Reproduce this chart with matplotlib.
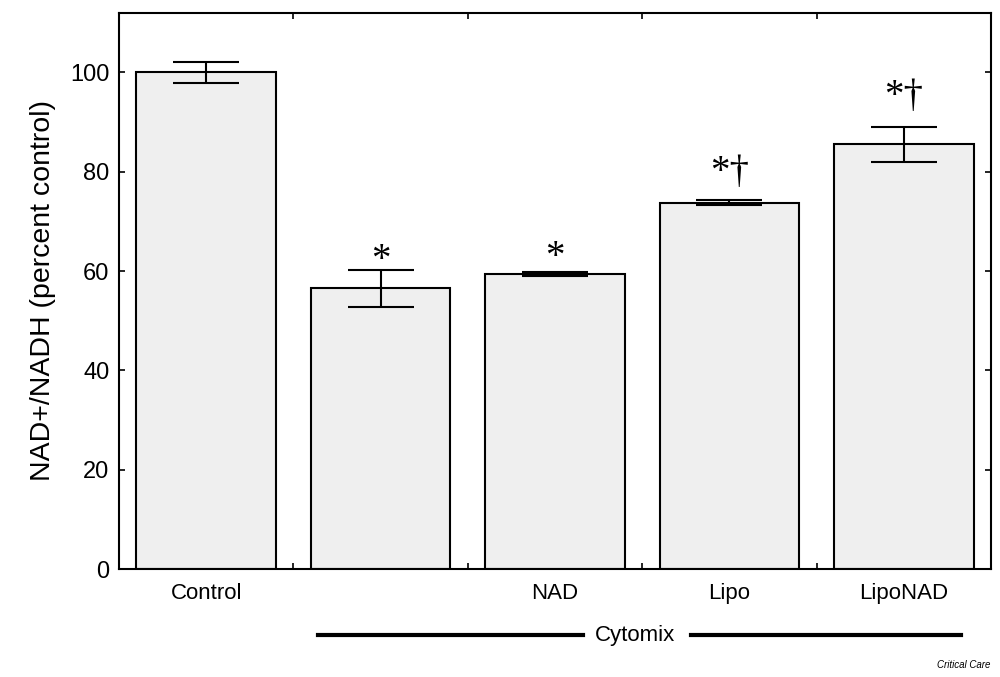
import matplotlib
matplotlib.use("Agg")
import matplotlib.pyplot as plt
import matplotlib.transforms as mtransforms

categories = ["Control", "", "NAD", "Lipo", "LipoNAD"]
values = [100.0, 56.5, 59.4, 73.8, 85.5]
errors = [2.2, 3.7, 0.4, 0.5, 3.5]
marks = ["", "*", "*", "*†", "*†"]
mark_y = [None, 60.3, 60.9, 78.0, 93.3]
yticks = [0, 20, 40, 60, 80, 100]
group_label = "Cytomix"
credit = "Critical Care"

plt.rcParams['font.family'] = ['Liberation Sans', 'DejaVu Sans']

fig = plt.figure(figsize=(10, 6.77), dpi=100)
ax = fig.add_axes([0.119, 0.1595, 0.872, 0.8215])

x = list(range(len(categories)))
ax.bar(x, values, width=0.8, color="#efefef", edgecolor="black", linewidth=1.5, zorder=2)
ax.errorbar(x, values, yerr=errors, fmt="none", ecolor="black", elinewidth=1.5,
            capsize=24, capthick=1.5, zorder=3)

for xi, m, my in zip(x, marks, mark_y):
    if m:
        ax.text(xi, my, m, ha="center", va="baseline", fontsize=28,
                family=["Liberation Serif", "DejaVu Serif"], zorder=4)

ax.set_xlim(-0.5, 4.5)
ax.set_ylim(0, 112)
ax.set_yticks(yticks)
ax.tick_params(axis="y", which="major", direction="in", length=4, width=1.2,
               labelsize=17, right=True, pad=7)
ax.set_xticks(x, categories)
ax.tick_params(axis="x", which="major", length=0, labelsize=16, pad=10)
ax.set_xticks([0.5, 1.5, 2.5, 3.5], minor=True)
ax.tick_params(axis="x", which="minor", direction="in", length=4, width=1.2, top=True)
for s in ax.spines.values():
    s.set_linewidth(1.5)

ax.set_ylabel("NAD+/NADH (percent control)", fontsize=20.5, labelpad=10)

trans = mtransforms.blended_transform_factory(ax.transData, ax.transAxes)
ly = -0.119
ax.plot([0.64, 2.16], [ly, ly], color="black", linewidth=3, transform=trans, clip_on=False)
ax.plot([2.78, 4.33], [ly, ly], color="black", linewidth=3, transform=trans, clip_on=False)
ax.text(2.46, ly, group_label, ha="center", va="center", fontsize=16, transform=trans)

fig.text(0.99, 0.018, credit, ha="right", va="center", fontsize=7, style="italic")

fig.savefig("out.png", dpi=100)
